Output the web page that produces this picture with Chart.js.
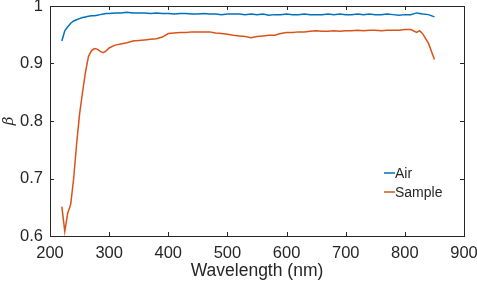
<!DOCTYPE html>
<html>
<head>
<meta charset="utf-8">
<script src="https://cdn.jsdelivr.net/npm/chart.js@4"></script>
<style>
  html, body { margin: 0; padding: 0; background: #fff; }
  #wrap { width: 477px; height: 288px; }
</style>
</head>
<body>
<div id="wrap"><canvas id="beta-chart" width="477" height="288"></canvas></div>
<script>
// Wavelengths (nm)
const wavelengths = [220, 225, 230, 235, 240, 245, 250, 255, 260, 265, 270, 275, 280, 285, 290, 295, 300,
  310, 320, 330, 340, 350, 360, 370, 380, 390, 400, 410, 420, 430, 440, 450, 460, 470, 480, 490, 500,
  510, 520, 530, 540, 550, 560, 570, 580, 590, 600, 610, 620, 630, 640, 650, 660, 670, 680, 690, 700,
  710, 720, 730, 740, 750, 760, 770, 780, 790, 800, 810, 820, 825, 830, 840, 850];

const airBeta = [0.939, 0.957, 0.964, 0.970, 0.974, 0.976, 0.978, 0.980, 0.981, 0.982, 0.983, 0.983, 0.984, 0.985, 0.986, 0.987, 0.987,
  0.988, 0.988, 0.989, 0.988, 0.988, 0.988, 0.987, 0.988, 0.987, 0.987, 0.986, 0.987, 0.987, 0.986, 0.986, 0.987, 0.986, 0.986, 0.985, 0.986,
  0.986, 0.986, 0.985, 0.986, 0.985, 0.986, 0.984, 0.985, 0.985, 0.986, 0.985, 0.985, 0.986, 0.985, 0.985, 0.985, 0.986, 0.985, 0.986, 0.985,
  0.985, 0.986, 0.985, 0.986, 0.985, 0.985, 0.986, 0.985, 0.984, 0.985, 0.985, 0.988, 0.987, 0.986, 0.985, 0.981];

const sampleBeta = [0.651, 0.608, 0.640, 0.655, 0.700, 0.760, 0.812, 0.850, 0.885, 0.912, 0.922, 0.926, 0.925, 0.921, 0.919, 0.922, 0.927,
  0.932, 0.934, 0.936, 0.939, 0.940, 0.941, 0.942, 0.943, 0.946, 0.952, 0.953, 0.954, 0.954, 0.955, 0.955, 0.955, 0.955, 0.953, 0.952, 0.951,
  0.949, 0.948, 0.947, 0.945, 0.947, 0.948, 0.949, 0.949, 0.952, 0.954, 0.954, 0.955, 0.955, 0.956, 0.957, 0.956, 0.956, 0.957, 0.956, 0.957,
  0.957, 0.958, 0.957, 0.958, 0.958, 0.957, 0.958, 0.958, 0.958, 0.959, 0.959, 0.954, 0.957, 0.952, 0.935, 0.907];

const seriesNames = ['Air', 'Sample'];
const xTicks = [200, 300, 400, 500, 600, 700, 800, 900];
const yTicks = [0.6, 0.7, 0.8, 0.9, 1];

const axisColor = '#262626';
const fontFamily = '"Liberation Sans", Arial, sans-serif';

// Box around plot + inward tick marks + legend inside the plot
const boxPlugin = {
    id: 'boxTicks',
    afterDatasetsDraw(chart) {
        const { ctx, chartArea: a, scales } = chart;
        ctx.save();
        ctx.strokeStyle = axisColor;
        ctx.lineWidth = 1;
        ctx.strokeRect(a.left + 0.5, a.top + 0.5, a.right - a.left, a.bottom - a.top);
        const len = 4;
        scales.x.ticks.forEach(t => {
            const px = Math.round(scales.x.getPixelForValue(t.value)) + 0.5;
            ctx.beginPath();
            ctx.moveTo(px, a.bottom); ctx.lineTo(px, a.bottom - len);
            ctx.moveTo(px, a.top); ctx.lineTo(px, a.top + len);
            ctx.stroke();
        });
        scales.y.ticks.forEach(t => {
            const py = Math.round(scales.y.getPixelForValue(t.value)) + 0.5;
            ctx.beginPath();
            ctx.moveTo(a.left, py); ctx.lineTo(a.left + len, py);
            ctx.moveTo(a.right, py); ctx.lineTo(a.right - len, py);
            ctx.stroke();
        });

        // legend
        ctx.font = '14px ' + fontFamily;
        ctx.textBaseline = 'middle';
        ctx.fillStyle = axisColor;
        const lx = a.right - 80, ly = a.top + 167;
        chart.data.datasets.forEach((ds, i) => {
            const y = ly + i * 19;
            ctx.strokeStyle = ds.borderColor;
            ctx.lineWidth = 1.5;
            ctx.beginPath();
            ctx.moveTo(lx, y); ctx.lineTo(lx + 11, y);
            ctx.stroke();
            ctx.fillText(ds.label, lx + 11, y + 1);
        });
        ctx.restore();
    }
};

const ctx = document.getElementById('beta-chart').getContext('2d');
new Chart(ctx, {
    type: 'line',
    data: {
        datasets: [
            {
                label: seriesNames[0],
                data: wavelengths.map((w, i) => ({ x: w, y: airBeta[i] })),
                borderColor: '#0072BD',
                borderWidth: 1.5,
                pointRadius: 0,
                tension: 0
            },
            {
                label: seriesNames[1],
                data: wavelengths.map((w, i) => ({ x: w, y: sampleBeta[i] })),
                borderColor: '#D95319',
                borderWidth: 1.5,
                pointRadius: 0,
                tension: 0
            }
        ]
    },
    options: {
        responsive: false,
        animation: false,
        layout: { padding: { top: 6, right: 13, left: 0, bottom: 0 } },
        plugins: {
            legend: { display: false },
            tooltip: { enabled: false }
        },
        scales: {
            x: {
                type: 'linear',
                min: 200, max: 900,
                afterBuildTicks: s => { s.ticks = xTicks.map(v => ({ value: v })); },
                afterFit: s => { s.height = 52; s.paddingLeft = 0; s.paddingRight = 0; },
                grid: { display: false, drawTicks: false },
                border: { display: false },
                ticks: { color: axisColor, padding: 8, font: { family: fontFamily, size: 16.5 } },
                title: {
                    display: true, text: 'Wavelength (nm)', color: axisColor,
                    font: { family: fontFamily, size: 17.5 }, padding: { top: 0, bottom: 6 }
                }
            },
            y: {
                min: 0.6, max: 1,
                afterBuildTicks: s => { s.ticks = yTicks.map(v => ({ value: v })); },
                afterFit: s => { s.width = 50; s.paddingTop = 0; s.paddingBottom = 0; },
                grid: { display: false, drawTicks: false },
                border: { display: false },
                ticks: {
                    color: axisColor, padding: 7, font: { family: fontFamily, size: 16.5 },
                    callback: v => String(Number(v.toFixed(1)))
                },
                title: {
                    display: true, text: 'β', color: axisColor,
                    font: { family: '"DejaVu Serif", serif', size: 15, style: 'italic' }, padding: { top: 0, bottom: 0 }
                }
            }
        }
    },
    plugins: [boxPlugin]
});
</script>
</body>
</html>
